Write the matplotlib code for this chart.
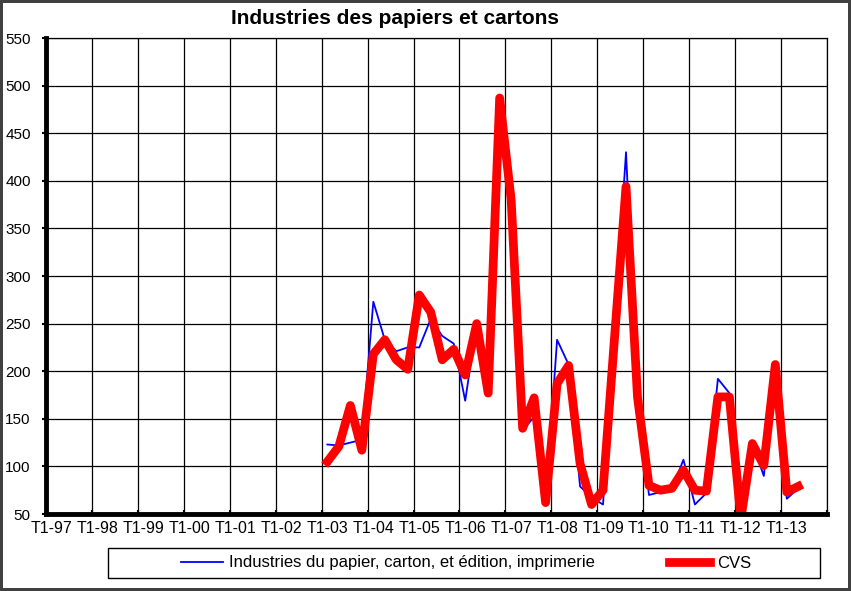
import numpy as np
import matplotlib.pyplot as plt
from matplotlib.patches import Rectangle

# axis labels, one per year (first quarter)
years = ['97', '98', '99', '00', '01', '02', '03', '04', '05', '06',
         '07', '08', '09', '10', '11', '12', '13']
tick_labels = ['T1-' + y for y in years]

# series start at T1-03 and end at T2-13
brut = [123, 122, 125, 128, 273, 233, 221, 225, 225, 255, 237, 229,
        169, 250, 177, 440, 395, 138, 152, 62, 233, 207, 79, 67,
        60, 245, 430, 175, 70, 73, 76, 107, 60, 72, 192, 177,
        50, 124, 90, 207, 66, 77]
cvs = [105, 121, 164, 117, 218, 233, 212, 202, 280, 262, 212, 223,
       196, 250, 177, 487, 380, 140, 172, 62, 187, 206, 103, 60,
       75, 235, 394, 173, 80, 75, 77, 96, 75, 74, 173, 173,
       45, 124, 101, 207, 73, 79]

plt.rcParams['font.family'] = ['Liberation Sans', 'DejaVu Sans']

n_quarters = 4 * len(years)
start = 4 * years.index('03')
xq = np.arange(start, start + len(cvs)) + 0.5

fig = plt.figure(figsize=(8.51, 5.91), dpi=100)
fig.patch.set_edgecolor('#404040')
fig.patch.set_linewidth(3)
ax = fig.add_axes([46/851, 1 - 514/591, 781/851, 476/591])

l1, = ax.plot(xq, brut, color='#0000ff', lw=1.3, label='Industries du papier, carton, et édition, imprimerie')
l2, = ax.plot(xq, cvs, color='#ff0000', lw=6.3, solid_joinstyle='round', label='CVS')

ax.set_xlim(0, n_quarters)
ax.set_ylim(50, 550)
ax.set_yticks(np.arange(50, 551, 50))
ax.set_xticks(np.arange(0, n_quarters + 1, 4))
ax.set_xticklabels([])
ax.set_xticks(np.arange(0, n_quarters, 4) + 0.5, minor=True)
ax.set_xticklabels(tick_labels, minor=True)
ax.tick_params(axis='x', which='minor', length=0, pad=5, labelsize=11.5)
ax.tick_params(axis='x', which='major', length=3, width=1.5, direction='in')
ax.tick_params(axis='y', length=3, width=1.5, labelsize=11, pad=8)
ax.grid(True, which='major', color='black', lw=0.9)
ax.set_axisbelow(True)

for s in ['top', 'right']:
    ax.spines[s].set_linewidth(0.9)
for s in ['left', 'bottom']:
    ax.spines[s].set_linewidth(3.5)

fig.text(395/851, 1 - 19/591, 'Industries des papiers et cartons', ha='center', va='center',
         fontsize=15, fontweight='bold')

# legend box
fig.patches.append(Rectangle((108/851, 1 - 578/591), 712/851, 30/591, transform=fig.transFigure,
                             facecolor='white', edgecolor='black', lw=1))
leg = fig.legend(handles=[l1, l2], loc='center', bbox_to_anchor=(466/851, 1 - 563/591),
                 ncol=2, frameon=False, fontsize=12, columnspacing=4.4,
                 handlelength=2.5, handletextpad=0.4)

fig.savefig('out.png', dpi=100)
